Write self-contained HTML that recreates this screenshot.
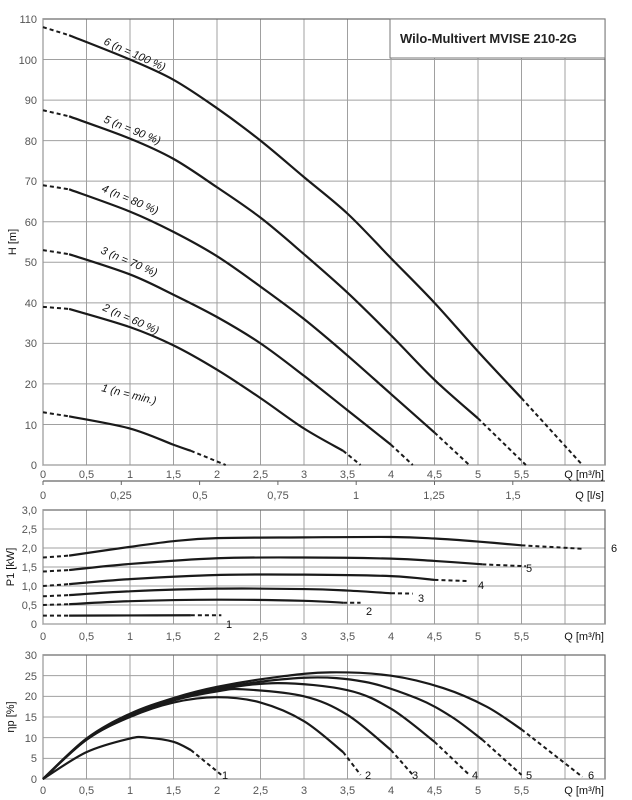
<!DOCTYPE html>
<html><head><meta charset="utf-8"><style>
body{margin:0;background:#fff}
svg{display:block;font-family:"Liberation Sans",sans-serif}
.t{font-size:11px;fill:#555}
.g{stroke:#a0a0a0;stroke-width:1;fill:none}
.c{stroke:#1a1a1a;stroke-width:2.2;fill:none}
.d{stroke:#1a1a1a;stroke-width:2;fill:none;stroke-dasharray:4,3}
.l{font-size:11px;fill:#111;font-style:italic}
.n{font-size:11px;fill:#111}
</style></head><body>
<svg id="s" width="632" height="800" viewBox="0 0 632 800">
<g id="grid"></g>
<g id="curves"></g>
<g class="t" text-anchor="end">
<text x="37" y="23">110</text><text x="37" y="64">100</text><text x="37" y="104">90</text><text x="37" y="145">80</text><text x="37" y="185">70</text><text x="37" y="226">60</text><text x="37" y="266">50</text><text x="37" y="307">40</text><text x="37" y="347">30</text><text x="37" y="388">20</text><text x="37" y="429">10</text><text x="37" y="469">0</text>
</g>
<text class="n" x="16" y="242" transform="rotate(-90 16 242)" text-anchor="middle">H [m]</text>
<g class="t" text-anchor="middle">
<text x="43" y="478">0</text><text x="86.5" y="478">0,5</text><text x="130" y="478">1</text><text x="173.5" y="478">1,5</text><text x="217" y="478">2</text><text x="260.5" y="478">2,5</text><text x="304" y="478">3</text><text x="347.5" y="478">3,5</text><text x="391" y="478">4</text><text x="434.5" y="478">4,5</text><text x="478" y="478">5</text><text x="521.5" y="478">5,5</text>
<text x="43" y="499">0</text><text x="121" y="499">0,25</text><text x="200" y="499">0,5</text><text x="278" y="499">0,75</text><text x="356" y="499">1</text><text x="434" y="499">1,25</text><text x="513" y="499">1,5</text>
<text x="43" y="640">0</text><text x="86.5" y="640">0,5</text><text x="130" y="640">1</text><text x="173.5" y="640">1,5</text><text x="217" y="640">2</text><text x="260.5" y="640">2,5</text><text x="304" y="640">3</text><text x="347.5" y="640">3,5</text><text x="391" y="640">4</text><text x="434.5" y="640">4,5</text><text x="478" y="640">5</text><text x="521.5" y="640">5,5</text>
<text x="43" y="794">0</text><text x="86.5" y="794">0,5</text><text x="130" y="794">1</text><text x="173.5" y="794">1,5</text><text x="217" y="794">2</text><text x="260.5" y="794">2,5</text><text x="304" y="794">3</text><text x="347.5" y="794">3,5</text><text x="391" y="794">4</text><text x="434.5" y="794">4,5</text><text x="478" y="794">5</text><text x="521.5" y="794">5,5</text>
</g>
<g class="n" text-anchor="end">
<text x="604" y="478">Q [m³/h]</text><text x="604" y="499">Q [l/s]</text><text x="604" y="640">Q [m³/h]</text><text x="604" y="794">Q [m³/h]</text>
</g>
<g class="t" text-anchor="end">
<text x="37" y="514">3,0</text><text x="37" y="533">2,5</text><text x="37" y="552">2,0</text><text x="37" y="571">1,5</text><text x="37" y="590">1,0</text><text x="37" y="609">0,5</text><text x="37" y="628">0</text>
<text x="37" y="659">30</text><text x="37" y="680">25</text><text x="37" y="700">20</text><text x="37" y="721">15</text><text x="37" y="742">10</text><text x="37" y="762">5</text><text x="37" y="783">0</text>
</g>
<text class="n" x="14" y="567" transform="rotate(-90 14 567)" text-anchor="middle">P1 [kW]</text>
<text class="n" x="14" y="717" transform="rotate(-90 14 717)" text-anchor="middle">ηp [%]</text>
<rect x="390" y="19" width="215" height="39" fill="#fff" stroke="#777" stroke-width="1"/>
<text x="400" y="43" font-size="13" font-weight="bold" fill="#222">Wilo-Multivert MVISE 210-2G</text>
<g class="l">
<text transform="translate(103,44) rotate(24)">6 (n = 100 %)</text>
<text transform="translate(103,122) rotate(22)">5 (n = 90 %)</text>
<text transform="translate(101,191) rotate(23)">4 (n = 80 %)</text>
<text transform="translate(100,253) rotate(23)">3 (n = 70 %)</text>
<text transform="translate(102,310) rotate(24)">2 (n = 60 %)</text>
<text transform="translate(101,391) rotate(14)">1 (n = min.)</text>
</g>
<g class="n">
<text x="611" y="552">6</text><text x="526" y="572">5</text><text x="478" y="589">4</text><text x="418" y="602">3</text><text x="366" y="615">2</text><text x="226" y="628">1</text>
<text x="222" y="779">1</text><text x="365" y="779">2</text><text x="412" y="779">3</text><text x="472" y="779">4</text><text x="526" y="779">5</text><text x="588" y="779">6</text>
</g>
</svg>
<script>
const NS="http://www.w3.org/2000/svg";
const X=q=>43+87*q, Yh=h=>465-4.0545*h, Yp=p=>624-38*p, Ye=e=>779-4.133*e;
const grid=document.getElementById('grid'), cur=document.getElementById('curves');
function el(p,t,a){const e=document.createElementNS(NS,t);for(const k in a)e.setAttribute(k,a[k]);p.appendChild(e);return e;}
function line(x1,y1,x2,y2,c){el(grid,'line',{x1,y1,x2,y2,class:c||'g'});}
function panel(top,bot,hs){
  for(let i=1;i<=12;i++)line(X(i*0.5),top,X(i*0.5),bot);
  hs.forEach(y=>line(43,y,605,y));
  el(grid,'rect',{x:43,y:top,width:562,height:bot-top,fill:'none',stroke:'#666','stroke-width':1.2});
  line(43,top,43,bot,'');grid.lastChild.setAttribute('stroke','#444');grid.lastChild.setAttribute('stroke-width','2');
  line(43,bot,605,bot,'');grid.lastChild.setAttribute('stroke','#444');grid.lastChild.setAttribute('stroke-width','2');
}
let hs=[];for(let i=1;i<11;i++)hs.push(Yh(i*10));panel(19,465,hs);
hs=[];for(let i=1;i<6;i++)hs.push(Yp(i*0.5));panel(510,624,hs);
hs=[];for(let i=1;i<6;i++)hs.push(Ye(i*5));panel(655,779,hs);
el(grid,'line',{x1:43,y1:481,x2:605,y2:481,stroke:'#666','stroke-width':1.2});
for(let i=0;i<=6;i++){const x=43+87*3.6*0.25*i;el(grid,'line',{x1:x,y1:481,x2:x,y2:485,stroke:'#666'});}
function path(pts,Y,cls){
  const P=pts.map(p=>[X(p[0]),Y(p[1])]);let d='M'+P[0][0]+','+P[0][1];
  for(let i=0;i<P.length-1;i++){const p0=P[i-1]||P[i],p1=P[i],p2=P[i+1],p3=P[i+2]||p2;
    d+=` C${p1[0]+(p2[0]-p0[0])/6},${p1[1]+(p2[1]-p0[1])/6} ${p2[0]-(p3[0]-p1[0])/6},${p2[1]-(p3[1]-p1[1])/6} ${p2[0]},${p2[1]}`;}
  el(cur,'path',{d,class:cls});
}
function curve(Y,dash1,solid,dash2){path(dash1,Y,'d');path(solid,Y,'c');path(dash2,Y,'d');}
curve(Yh,[[0,108],[0.3,106]],[[0.3,106],[1,100],[1.5,95],[2,88],[2.5,80],[3,71],[3.5,62],[4,51],[4.5,40],[5,28],[5.5,16.5]],[[5.5,16.5],[6.2,0]]);
curve(Yh,[[0,87.5],[0.3,86]],[[0.3,86],[1,80.5],[1.5,75.5],[2,68.5],[2.5,61],[3,52],[3.5,42.5],[4,32],[4.5,21],[5,11.5]],[[5,11.5],[5.55,0]]);
curve(Yh,[[0,69],[0.3,68]],[[0.3,68],[1,62.5],[1.5,57.5],[2,51.5],[2.5,44],[3,36],[3.5,27],[4,17.5],[4.5,8]],[[4.5,8],[4.9,0]]);
curve(Yh,[[0,53],[0.3,52]],[[0.3,52],[1,47],[1.5,42],[2,36.5],[2.5,30],[3,22],[3.5,13.5],[4,5]],[[4,5],[4.25,0]]);
curve(Yh,[[0,39],[0.3,38.5]],[[0.3,38.5],[1,34],[1.5,29.5],[2,23.5],[2.5,16.5],[3,9],[3.45,3.5]],[[3.45,3.5],[3.65,0]]);
curve(Yh,[[0,13],[0.3,12]],[[0.3,12],[1,9],[1.5,5],[1.7,3.5]],[[1.7,3.5],[2.1,0]]);
curve(Yp,[[0,1.75],[0.3,1.8]],[[0.3,1.8],[1,2.03],[1.5,2.18],[2,2.26],[3,2.28],[4,2.29],[4.5,2.25],[5,2.17],[5.5,2.07]],[[5.5,2.07],[6.2,1.98]]);
curve(Yp,[[0,1.38],[0.3,1.42]],[[0.3,1.42],[1,1.58],[2,1.73],[3,1.75],[4,1.72],[4.5,1.66],[5.05,1.57]],[[5.05,1.57],[5.55,1.52]]);
curve(Yp,[[0,1.0],[0.3,1.05]],[[0.3,1.05],[1,1.18],[2,1.29],[3,1.3],[4,1.26],[4.5,1.16]],[[4.5,1.16],[4.9,1.13]]);
curve(Yp,[[0,0.73],[0.3,0.76]],[[0.3,0.76],[1,0.86],[2,0.93],[3,0.92],[3.5,0.88],[4,0.81]],[[4,0.81],[4.25,0.8]]);
curve(Yp,[[0,0.5],[0.3,0.52]],[[0.3,0.52],[1,0.6],[2,0.64],[3,0.61],[3.45,0.56]],[[3.45,0.56],[3.65,0.56]]);
curve(Yp,[[0,0.22],[0.3,0.22]],[[0.3,0.22],[1,0.225],[1.7,0.23]],[[1.7,0.23],[2.05,0.23]]);
curve(Ye,[[0,0],[0.001,0]],[[0,0],[0.5,6.5],[1,9.8],[1.2,10],[1.5,9],[1.7,7]],[[1.7,7],[2.05,1]]);
curve(Ye,[[0,0],[0.001,0]],[[0,0],[0.5,9.5],[1,15],[1.5,18.5],[2,19.8],[2.5,18.5],[3,14],[3.45,6.5]],[[3.45,6.5],[3.65,1]]);
curve(Ye,[[0,0],[0.001,0]],[[0,0],[0.5,9.5],[1,15.2],[1.5,19],[2,21.2],[2.3,21.7],[3,20],[3.5,15.5],[4,7]],[[4,7],[4.25,1]]);
curve(Ye,[[0,0],[0.001,0]],[[0,0],[0.5,9.6],[1,15.4],[1.5,19.2],[2,21.6],[2.7,23.2],[3.5,21.5],[4,17],[4.5,9]],[[4.5,9],[4.9,1]]);
curve(Ye,[[0,0],[0.001,0]],[[0,0],[0.5,9.7],[1,15.6],[1.5,19.4],[2,22],[3,24.5],[3.7,23.5],[4.3,19.5],[4.7,15],[5.05,9.5]],[[5.05,9.5],[5.5,1]]);
curve(Ye,[[0,0],[0.001,0]],[[0,0],[0.5,9.8],[1,15.8],[1.5,19.6],[2,22.3],[2.7,24.7],[3.3,25.8],[4,25],[4.6,22],[5.1,17.5],[5.5,12]],[[5.5,12],[6.2,0.5]]);
</script>
</body></html>
